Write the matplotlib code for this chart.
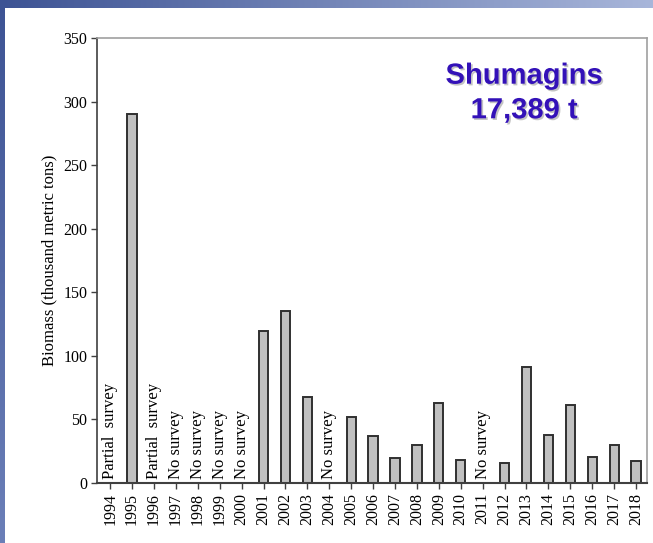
import matplotlib
matplotlib.use("Agg")
import matplotlib.pyplot as plt
import matplotlib.patheffects as pe
from matplotlib.colors import LinearSegmentedColormap
import numpy as np

years = [str(y) for y in range(1994, 2019)]
biomass = [None, 290, None, None, None, None, None, 119.5, 135.5, 67.5, None, 52, 37,
           20, 30, 63, 18, None, 15.5, 91.5, 37.5, 61, 20.5, 29.5, 17.5]
notes = {"1994": "Partial  survey", "1996": "Partial  survey", "1997": "No survey",
         "1998": "No survey", "1999": "No survey", "2000": "No survey",
         "2004": "No survey", "2011": "No survey"}
title_text = "Shumagins\n17,389 t"
ylabel = "Biomass (thousand metric tons)"
yticks = [0, 50, 100, 150, 200, 250, 300, 350]

plt.rcParams['font.family'] = ['Liberation Serif', 'DejaVu Serif']

fig = plt.figure(figsize=(6.53, 5.43), dpi=100)
fig.patch.set_facecolor('white')

# decorative blue gradient bands (top and left)
top = fig.add_axes([0, 1 - 8/543, 1, 8/543])
grad = np.linspace(0, 1, 256).reshape(1, -1)
cm_top = LinearSegmentedColormap.from_list('t', ['#3d5394', '#a8b6da'])
top.imshow(grad, aspect='auto', cmap=cm_top, extent=[0, 1, 0, 1])
top.axis('off')
left = fig.add_axes([0, 0, 5/653, 1])
cm_left = LinearSegmentedColormap.from_list('l', ['#6b7fb8', '#3d5394'])
left.imshow(np.linspace(0, 1, 256).reshape(-1, 1), aspect='auto', cmap=cm_left,
            extent=[0, 1, 0, 1], origin='lower')
left.axis('off')

ax = fig.add_axes([97/653, 1 - 483/543, 550/653, 445/543])
x = np.arange(len(years))
for i, (yr, v) in enumerate(zip(years, biomass)):
    if v is not None:
        ax.bar(i, v, width=0.42, color='#c0c0c0', edgecolor='#303030', linewidth=1.4, zorder=2)
    if yr in notes:
        ax.text(i, 3, notes[yr], rotation=90, ha='center', va='bottom', fontsize=12, color='black')

ax.set_xlim(-0.6, 24.5)
ax.set_ylim(0, 350)
ax.set_xticks(x)
ax.set_xticklabels(years, rotation=90, fontsize=11.5)
ax.set_yticks(yticks)
ax.set_yticklabels([str(t) for t in yticks], fontsize=11.5)
ax.set_ylabel(ylabel, fontsize=12, labelpad=4)
ax.tick_params(axis='both', direction='out', length=4, width=1, color='#404040', pad=3)
ax.spines['left'].set_color('#404040')
ax.spines['bottom'].set_color('#404040')
ax.spines['left'].set_linewidth(1.2)
ax.spines['bottom'].set_linewidth(1.5)
ax.spines['top'].set_color('#a0a0a0')
ax.spines['right'].set_color('#a0a0a0')
ax.spines['top'].set_linewidth(1.2)
ax.spines['right'].set_linewidth(1.2)

fig.text(524/653, 1 - 93/543, title_text, ha='center', va='center', fontsize=21,
         fontweight='bold', family=['Liberation Sans', 'DejaVu Sans'], color='#3311b8',
         linespacing=1.3,
         path_effects=[pe.withSimplePatchShadow(offset=(1.2, -1.2), shadow_rgbFace='#888888', alpha=0.5)])

fig.savefig('out.png', dpi=100)
